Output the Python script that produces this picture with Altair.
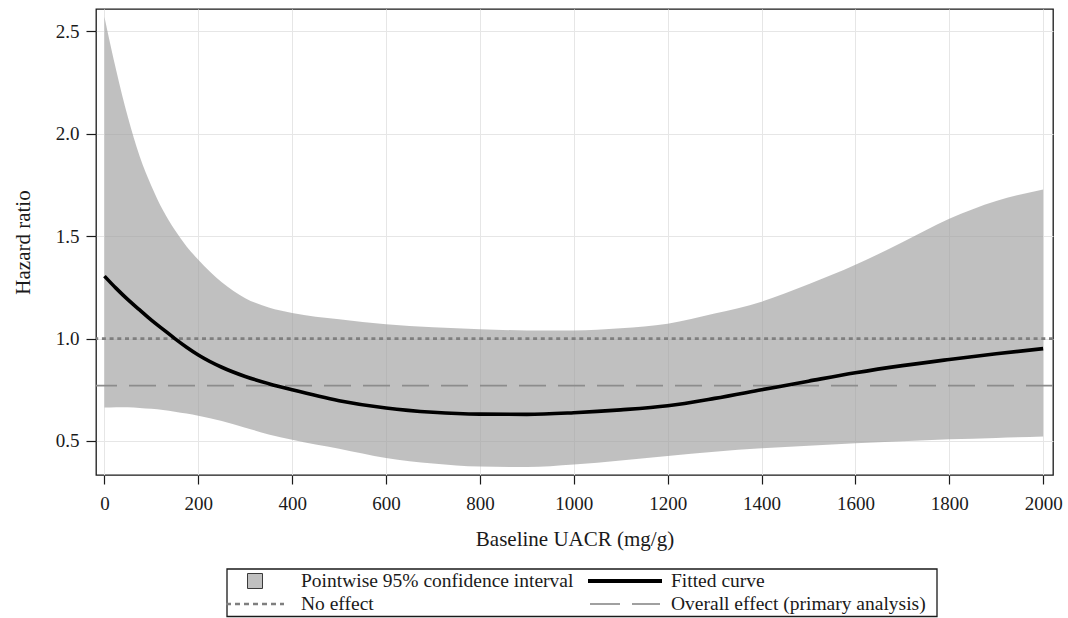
import altair as alt
import pandas as pd

# Baseline UACR (mg/g) at which the spline fit and its pointwise interval are drawn
uacr = [0, 25, 50, 75, 100, 125, 150, 175, 200, 250, 300, 350, 400, 500, 600,
        700, 800, 900, 1000, 1100, 1200, 1300, 1400, 1500, 1600, 1700, 1800,
        1900, 2000]
hr_fit = [1.305, 1.245, 1.19, 1.14, 1.09, 1.045, 1.00, 0.958, 0.92, 0.86,
          0.815, 0.78, 0.75, 0.697, 0.661, 0.640, 0.631, 0.630, 0.638, 0.652,
          0.672, 0.708, 0.750, 0.792, 0.833, 0.868, 0.898, 0.926, 0.951]
ci_lower = [0.663, 0.665, 0.665, 0.661, 0.657, 0.651, 0.643, 0.634, 0.623,
            0.598, 0.565, 0.532, 0.506, 0.462, 0.417, 0.390, 0.375, 0.373,
            0.385, 0.405, 0.427, 0.448, 0.464, 0.477, 0.489, 0.499, 0.508,
            0.515, 0.522]
ci_upper = [2.57, 2.31, 2.08, 1.89, 1.745, 1.625, 1.53, 1.45, 1.385, 1.275,
            1.197, 1.152, 1.125, 1.094, 1.070, 1.055, 1.046, 1.040, 1.040,
            1.050, 1.073, 1.122, 1.180, 1.265, 1.360, 1.470, 1.585, 1.672,
            1.728]

# Horizontal reference lines
ref_labels = ["No effect", "Overall effect (primary analysis)"]
ref_values = [1.0, 0.77]

# Legend entries (two columns, two rows)
legend_labels = ["Pointwise 95% confidence interval", "Fitted curve",
                 "No effect", "Overall effect (primary analysis)"]
legend_kind = ["band", "fit", "null", "overall"]
legend_col = [0, 1, 0, 1]
legend_row = [0, 0, 1, 1]

x_ticks = list(range(0, 2001, 200))
y_ticks = [0.5, 1.0, 1.5, 2.0, 2.5]

SERIF = "Liberation Serif"
INK = "#1a1a1a"

curve = pd.DataFrame({"uacr": uacr, "fit": hr_fit, "lo": ci_lower, "hi": ci_upper})
refs = pd.DataFrame({"label": ref_labels, "hr": ref_values})
leg = pd.DataFrame({"label": legend_labels, "kind": legend_kind,
                    "col": legend_col, "row": legend_row})

x_scale = alt.Scale(domain=[-18, 2021], nice=False, zero=False)
y_scale = alt.Scale(domain=[0.334, 2.609], nice=False, zero=False)

x_axis = alt.Axis(values=x_ticks, format="d", title="Baseline UACR (mg/g)",
                  tickSize=9, labelPadding=10, titlePadding=15)
y_axis = alt.Axis(values=y_ticks, format=".1f", title="Hazard ratio",
                  tickSize=10, labelPadding=7, titlePadding=22)

band = alt.Chart(curve).mark_area(
    color="#9e9e9e", opacity=0.65, interpolate="monotone"
).encode(
    x=alt.X("uacr:Q", scale=x_scale, axis=x_axis),
    y=alt.Y("lo:Q", scale=y_scale, axis=y_axis),
    y2="hi:Q",
)

null_rule = alt.Chart(refs).transform_filter(
    alt.datum.label == "No effect"
).mark_rule(color="#7f7f7f", strokeWidth=2.6, strokeDash=[4, 3.7]).encode(
    y=alt.Y("hr:Q", scale=y_scale)
)

overall_rule = alt.Chart(refs).transform_filter(
    alt.datum.label == "Overall effect (primary analysis)"
).mark_rule(color="#8c8c8c", strokeWidth=1.8, strokeDash=[27, 12]).encode(
    y=alt.Y("hr:Q", scale=y_scale)
)

fit_line = alt.Chart(curve).mark_line(
    color="black", strokeWidth=3.6, interpolate="monotone"
).encode(
    x=alt.X("uacr:Q", scale=x_scale),
    y=alt.Y("fit:Q", scale=y_scale),
)

plot = alt.layer(band, null_rule, overall_rule, fit_line)

# Legend panel below the plot, laid out on its own column/row scales
lx = alt.X("col:Q", scale=alt.Scale(domain=[0, 1], range=[159, 529]), axis=None)
ly = alt.Y("row:Q", scale=alt.Scale(domain=[0, 1], range=[572, 595]), axis=None)

frame = alt.Chart(pd.DataFrame({"box": [0]})).mark_rect(
    fill="transparent", stroke=INK, strokeWidth=1.3
).encode(
    x=alt.value(131), x2=alt.value(841), y=alt.value(560), y2=alt.value(607.5)
)

def legend_symbol(kind, **mark):
    return alt.Chart(leg).transform_filter(alt.datum.kind == kind).mark_point(
        opacity=1, **mark
    ).encode(x=lx, y=ly)

sym_band = legend_symbol("band", shape="square", size=225, filled=True,
                         fill="#c0c0c0", stroke="#3a3a3a", strokeWidth=1)
sym_fit = legend_symbol("fit", shape="stroke", size=74 ** 2, filled=False,
                        stroke="black", strokeWidth=4)
sym_null = legend_symbol("null", shape="stroke", size=58 ** 2, filled=False,
                         stroke="#7f7f7f", strokeWidth=2.6, strokeDash=[5, 4])
sym_overall = legend_symbol("overall", shape="stroke", size=70 ** 2,
                            filled=False, stroke="#a0a0a0", strokeWidth=2,
                            strokeDash=[30, 12])

labels = alt.Chart(leg).mark_text(
    align="left", baseline="middle", dx=46, font=SERIF, fontSize=19.5,
    color=INK
).encode(x=lx, y=ly, text="label:N")

legend = alt.layer(frame, sym_band, sym_fit, sym_null, sym_overall, labels)

chart = alt.layer(plot, legend).resolve_scale(
    x="independent", y="independent"
).properties(
    width=957,
    height=466,
    autosize=alt.AutoSizeParams(type="none"),
    padding={"left": 96, "top": 9, "right": 15, "bottom": 143},
    background="white",
).configure_axis(
    labelFont=SERIF, titleFont=SERIF, labelFontSize=19, titleFontSize=21,
    titleFontWeight="normal", labelColor=INK, titleColor=INK,
    tickColor=INK, tickWidth=1.2, gridColor="#e6e6e6", gridWidth=1,
    domain=False, grid=True,
).configure_view(stroke=INK, strokeWidth=1.3)

chart.save("out.html", embed_options={"renderer": "svg", "actions": False})
